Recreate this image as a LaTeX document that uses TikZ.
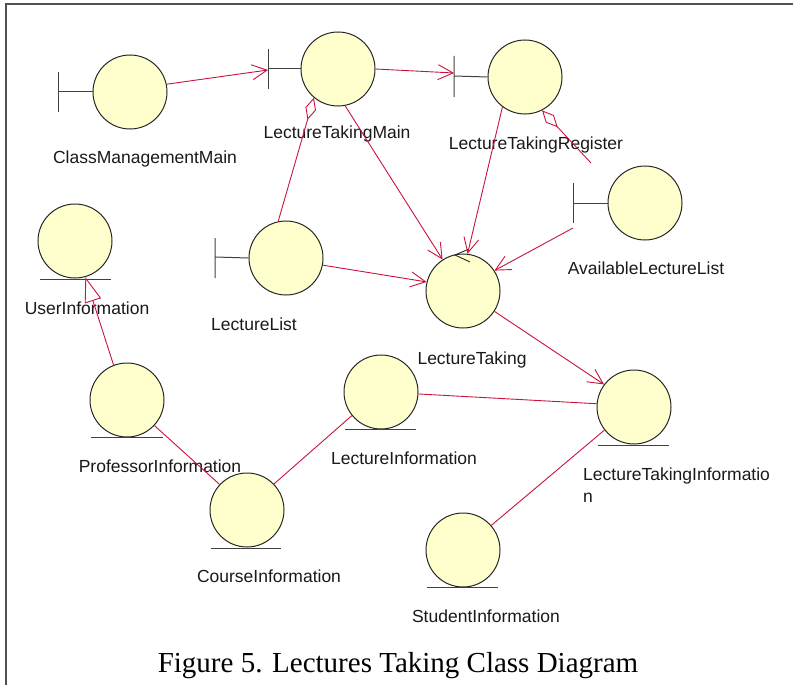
\documentclass[tikz,border=0pt]{standalone}
\usepackage{fontspec}
\setmainfont{Liberation Sans}
\newfontfamily\capfont{Liberation Serif}
\usetikzlibrary{arrows.meta}
\definecolor{linkred}{RGB}{200,20,60}
\definecolor{ballfill}{RGB}{255,255,206}
\definecolor{framegray}{RGB}{80,80,80}
\tikzset{
  ball/.style={circle,draw=black!85,line width=1pt,fill=ballfill,minimum size=74pt,inner sep=0pt},
  bar/.style={draw=black!75,line width=1pt},
  lbl/.style={anchor=base,font=\fontsize{17.5}{20}\selectfont,inner sep=0pt,text=black!90},
  link/.style={draw=linkred,line width=0.9pt},
  navarrow/.style={link,-{Straight Barb[length=15pt,width=15pt,line width=0.9pt]}},
  aggr/.style={link,-{Diamond[open,length=23pt,width=11pt,line width=0.9pt]}},
  gener/.style={link,-{Triangle[open,length=25pt,width=17pt,line width=0.9pt]}},
}
\begin{document}
\begin{tikzpicture}[x=1pt,y=-1pt]
\useasboundingbox (0,0) rectangle (793,685);
% frame
\draw[framegray,line width=1.5pt] (6,685) -- (6,4) -- (793,4);

% --- boundary objects ---
\node[ball] (cmm) at (130,92) {};
\draw[bar] (58,72) -- (58,112) (58,92) -- (cmm.west);
\node[lbl] (lcmm) at (145,163) {ClassManagementMain};

\node[ball] (ltm) at (338,69) {};
\draw[bar] (268,49) -- (268,89) (268,69) -- (ltm.west);
\coordinate (ltmb) at (268,70);
\node[lbl] (lltm) at (337,138) {LectureTakingMain};

\node[ball] (ltr) at (525,77) {};
\draw[bar] (454,56) -- (454,97) (454,76) -- (ltr.west);
\coordinate (ltrb) at (454,73);
\node[lbl] (lltr) at (536,149) {LectureTakingRegister};

\node[ball] (all) at (645,203) {};
\draw[bar] (573,183) -- (573,223) (573,203) -- (all.west);
\coordinate (allb) at (573,228);
\coordinate (allagg) at (591,163);
\node[lbl] (lall) at (646,274) {AvailableLectureList};

\node[ball] (ll) at (286,258) {};
\draw[bar] (215,238) -- (215,278) (215,257) -- (ll.west);
\node[lbl] (lll) at (254,330) {LectureList};

% --- control ---
\node[ball] (lt) at (463,291) {};
\draw[black!85,line width=0.9pt] (469,249) -- (455,255) -- (470,262);
\node[lbl] (llt) at (472,364) {LectureTaking};

% --- entities ---
\node[ball] (ui) at (75,241) {};
\draw[bar] (40,279) -- (111,279);
\node[lbl] (lui) at (87,314) {UserInformation};

\node[ball] (pi) at (127,400) {};
\draw[bar] (91,437) -- (163,437);
\node[lbl] (lpi) at (160,472) {ProfessorInformation};

\node[ball] (ci) at (247,510) {};
\draw[bar] (211,548) -- (281,548);
\node[lbl] (lci) at (269,582) {CourseInformation};

\node[ball] (li) at (381,392) {};
\draw[bar] (345,429) -- (416,429);
\node[lbl] (lli) at (404,464) {LectureInformation};

\node[ball] (lti) at (634,407) {};
\draw[bar] (598,445) -- (669,445);
\node[lbl,anchor=base west] (llti) at (583,480) {LectureTakingInformatio};
\node[lbl,anchor=base west] (llti2) at (583,502) {n};

\node[ball] (si) at (463,550) {};
\draw[bar] (427,587) -- (498,587);
\node[lbl] (lsi) at (486,622) {StudentInformation};

% --- connectors ---
\draw[navarrow] (cmm.12) -- (ltmb);
\draw[navarrow] (ltm.east) -- (ltrb);
\draw[aggr] (ll.102) -- (ltm.230);
\draw[navarrow] (ltm.281) -- (lt.123);
\draw[navarrow] (ltr.233) -- (lt.83);
\draw[navarrow] (ll.349) -- (lt.166);
\draw[navarrow] (allb) -- (lt.33);
\draw[aggr] (allagg) -- (ltr.297);
\draw[navarrow] (lt.327) -- (lti.143);
\draw[link] (li.357) -- (lti.175);
\draw[link] (ci.44) -- (li.219);
\draw[link] (pi.317) -- (ci.137);
\draw[gener] (pi.111) -- (ui.286);
\draw[link] (si.41) -- (lti.218);

% caption
\node[anchor=base,font=\capfont\fontsize{29}{32}\selectfont,inner sep=0pt] (cap) at (398,672) {Figure 5. Lectures Taking Class Diagram};
\end{tikzpicture}
\end{document}
